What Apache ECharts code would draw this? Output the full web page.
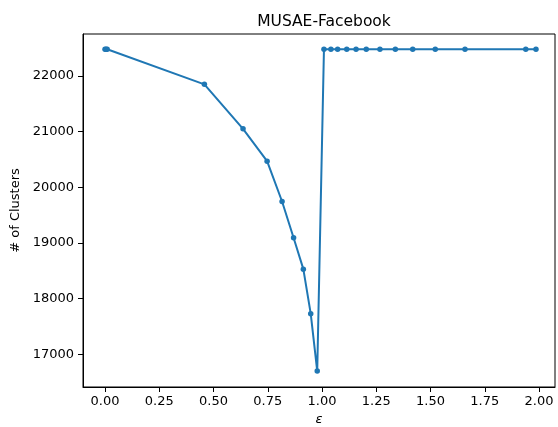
<!DOCTYPE html>
<html>
<head>
<meta charset="utf-8">
<script src="https://cdn.jsdelivr.net/npm/echarts@6/dist/echarts.min.js"></script>
<style>html,body{margin:0;padding:0;background:#fff}#c{width:558px;height:427px}</style>
</head>
<body>
<div id="c"></div>
<script>
const epsilon = [0.0, 0.005, 0.01, 0.458, 0.636, 0.747, 0.816, 0.869, 0.914, 0.948, 0.978,
  1.009, 1.041, 1.072, 1.114, 1.157, 1.204, 1.267, 1.338, 1.418, 1.522, 1.659, 1.939, 1.986];
const clusters = [22480, 22480, 22480, 21850, 21050, 20470, 19745, 19095, 18530, 17730, 16700,
  22480, 22480, 22480, 22480, 22480, 22480, 22480, 22480, 22480, 22480, 22480, 22480, 22480];
const xTicks = [0, 0.25, 0.5, 0.75, 1.0, 1.25, 1.5, 1.75, 2.0];
const yTicks = [17000, 18000, 19000, 20000, 21000, 22000];

const chart = echarts.init(document.getElementById('c'), null, {renderer: 'canvas'});
const font = 'DejaVu Sans';
chart.setOption({
  animation: false,
  backgroundColor: '#fff',
  title: {
    text: 'MUSAE-Facebook', left: 319, top: 9, textAlign: 'center',
    textStyle: {fontFamily: font, fontSize: 15.5, fontWeight: 'normal', color: '#000'}
  },
  grid: {left: 83, right: 3, top: 34, bottom: 40, containLabel: false, outerBoundsMode: 'none',
    show: true, borderColor: '#000', borderWidth: 1, backgroundColor: 'transparent'},
  xAxis: {
    type: 'value', min: -0.1014, max: 2.0737,
    name: 'ε', nameLocation: 'middle', nameGap: 26,
    nameTextStyle: {fontFamily: font, fontSize: 13, fontStyle: 'italic', color: '#000'},
    axisLine: {show: true, onZero: false, lineStyle: {color: '#000', width: 1}},
    axisTick: {show: true, length: 5, lineStyle: {color: '#000'}, customValues: xTicks},
    axisLabel: {fontFamily: font, fontSize: 13, color: '#000', margin: 8, customValues: xTicks,
      formatter: v => v.toFixed(2)},
    splitLine: {show: false}
  },
  yAxis: {
    type: 'value', min: 16413, max: 22754,
    name: '# of Clusters', nameLocation: 'middle', nameGap: 58, nameRotate: 90,
    nameTextStyle: {fontFamily: font, fontSize: 13, color: '#000'},
    axisLine: {show: true, onZero: false, lineStyle: {color: '#000', width: 1}},
    axisTick: {show: true, length: 5, lineStyle: {color: '#000'}, customValues: yTicks},
    axisLabel: {fontFamily: font, fontSize: 13, color: '#000', margin: 9, customValues: yTicks,
      formatter: v => String(v)},
    splitLine: {show: false}
  },
  series: [{
    type: 'line',
    data: epsilon.map((x, i) => [x, clusters[i]]),
    color: '#1f77b4',
    lineStyle: {color: '#1f77b4', width: 2},
    symbol: 'circle', symbolSize: 5.5,
    itemStyle: {color: '#1f77b4'},
    showAllSymbol: true
  }]
});
</script>
</body>
</html>
